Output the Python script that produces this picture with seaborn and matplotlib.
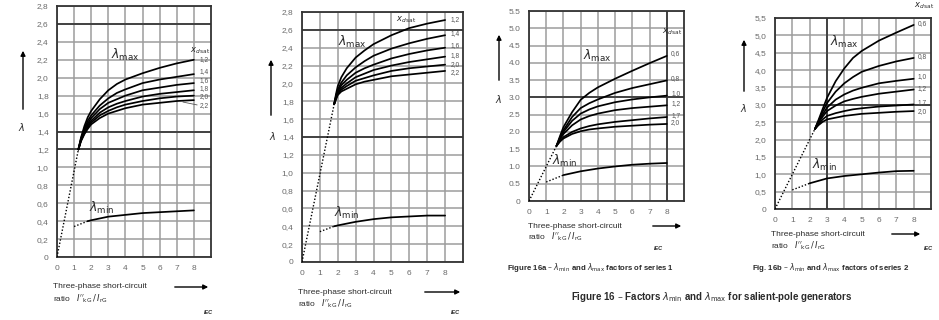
import pandas as pd
import matplotlib.pyplot as plt
import seaborn as sns

sns.set_theme(style="white")
plt.rcParams["font.family"] = ["Liberation Sans", "DejaVu Sans"]

W, H = 939, 320

# ---- data ----
# panel 1 (left)
P1_X = [1.25, 1.4, 1.6, 1.8, 2, 2.5, 3, 3.5, 4, 5, 6, 7, 8]
P1_XDSAT = ["1,2", "1,4", "1,6", "1,8", "2,0", "2,2"]
P1_LMAX = [
    [1.2, 1.33, 1.46, 1.56, 1.63, 1.76, 1.86, 1.93, 1.98, 2.05, 2.11, 2.16, 2.20],
    [1.2, 1.32, 1.43, 1.52, 1.58, 1.69, 1.77, 1.83, 1.87, 1.94, 1.98, 2.01, 2.04],
    [1.2, 1.31, 1.41, 1.49, 1.55, 1.65, 1.72, 1.76, 1.80, 1.86, 1.89, 1.92, 1.94],
    [1.2, 1.30, 1.40, 1.47, 1.52, 1.61, 1.67, 1.71, 1.74, 1.79, 1.82, 1.84, 1.86],
    [1.2, 1.30, 1.38, 1.45, 1.50, 1.58, 1.63, 1.67, 1.70, 1.74, 1.77, 1.79, 1.80],
    [1.2, 1.29, 1.37, 1.43, 1.48, 1.55, 1.60, 1.63, 1.66, 1.70, 1.72, 1.74, 1.75],
]
P1_START = [1.25, 1.2]
P1_MIN_DOT_X = [1.0, 1.8]
P1_MIN_DOT = [0.34, 0.40]
P1_MIN_X = [1.8, 2, 3, 4, 5, 6, 7, 8]
P1_LMIN = [0.40, 0.41, 0.45, 0.47, 0.49, 0.50, 0.51, 0.52]

# panel 2
P2_X = [1.8, 1.9, 2, 2.2, 2.5, 3, 3.5, 4, 5, 6, 7, 8]
P2_XDSAT = ["1,2", "1,4", "1,6", "1,8", "2,0", "2,2"]
P2_LMAX = [
    [1.77, 1.88, 1.97, 2.07, 2.17, 2.29, 2.37, 2.44, 2.54, 2.62, 2.67, 2.71],
    [1.77, 1.86, 1.93, 2.01, 2.09, 2.18, 2.25, 2.31, 2.39, 2.45, 2.50, 2.54],
    [1.77, 1.85, 1.91, 1.98, 2.04, 2.12, 2.17, 2.21, 2.28, 2.33, 2.37, 2.40],
    [1.77, 1.84, 1.89, 1.95, 2.00, 2.07, 2.11, 2.15, 2.20, 2.24, 2.27, 2.30],
    [1.77, 1.83, 1.88, 1.93, 1.97, 2.03, 2.06, 2.09, 2.14, 2.17, 2.19, 2.21],
    [1.77, 1.82, 1.87, 1.91, 1.94, 1.99, 2.02, 2.04, 2.08, 2.10, 2.12, 2.14],
]
P2_START = [1.8, 1.77]
P2_MIN_DOT_X = [1.0, 1.8]
P2_MIN_DOT = [0.34, 0.40]
P2_MIN_X = [1.8, 2, 3, 4, 5, 6, 7, 8]
P2_LMIN = [0.40, 0.41, 0.45, 0.48, 0.50, 0.51, 0.52, 0.52]

# panel 3 (Figure 16a, series 1)
P3_X = [1.6, 1.8, 2, 2.5, 3, 3.5, 4, 5, 6, 7, 8]
P3_XDSAT = ["0,6", "0,8", "1,0", "1,2", "1,7", "2,0"]
P3_LMAX = [
    [1.6, 1.88, 2.14, 2.57, 2.93, 3.13, 3.29, 3.54, 3.77, 3.99, 4.20],
    [1.6, 1.84, 2.05, 2.43, 2.69, 2.83, 2.94, 3.13, 3.27, 3.38, 3.49],
    [1.6, 1.82, 2.00, 2.32, 2.53, 2.65, 2.74, 2.86, 2.94, 3.00, 3.05],
    [1.6, 1.79, 1.94, 2.19, 2.36, 2.46, 2.53, 2.63, 2.69, 2.73, 2.77],
    [1.6, 1.74, 1.85, 2.00, 2.10, 2.17, 2.22, 2.29, 2.34, 2.39, 2.43],
    [1.6, 1.72, 1.81, 1.94, 2.02, 2.07, 2.10, 2.15, 2.18, 2.21, 2.23],
]
P3_START = [1.6, 1.6]
P3_MIN_DOT_X = [1.0, 2.0]
P3_MIN_DOT = [0.55, 0.75]
P3_MIN_X = [2, 3, 4, 5, 6, 7, 8]
P3_LMIN = [0.75, 0.86, 0.94, 1.00, 1.05, 1.08, 1.10]

# panel 4 (Figure 16b, series 2)
P4_X = [2.3, 2.5, 2.75, 3, 3.5, 4, 4.5, 5, 6, 7, 8]
P4_XDSAT = ["0,6", "0,8", "1,0", "1,2", "1,7", "2,0"]
P4_LMAX = [
    [2.3, 2.55, 2.88, 3.20, 3.68, 4.05, 4.35, 4.55, 4.85, 5.08, 5.30],
    [2.3, 2.52, 2.80, 3.05, 3.38, 3.62, 3.80, 3.95, 4.12, 4.25, 4.35],
    [2.3, 2.50, 2.72, 2.92, 3.15, 3.30, 3.41, 3.49, 3.62, 3.69, 3.75],
    [2.3, 2.48, 2.66, 2.82, 2.98, 3.10, 3.17, 3.23, 3.32, 3.38, 3.44],
    [2.3, 2.44, 2.58, 2.68, 2.76, 2.82, 2.87, 2.90, 2.95, 2.98, 3.01],
    [2.3, 2.41, 2.51, 2.58, 2.63, 2.68, 2.71, 2.74, 2.77, 2.80, 2.82],
]
P4_START = [2.3, 2.3]
P4_MIN_DOT_X = [1.0, 2.0]
P4_MIN_DOT = [0.55, 0.74]
P4_MIN_X = [2, 3, 4, 5, 6, 7, 8]
P4_LMIN = [0.74, 0.88, 0.95, 1.00, 1.05, 1.09, 1.10]

Y_TICKS_A = [round(0.2 * i, 1) for i in range(15)]
Y_LABELS_A = ["0"] + [f"{v:.1f}".replace(".", ",") for v in Y_TICKS_A[1:]]
Y_TICKS_B = [0.5 * i for i in range(12)]
Y_LABELS_B3 = ["0"] + [f"{v:.1f}" for v in Y_TICKS_B[1:]]
Y_LABELS_B4 = ["0"] + [f"{v:.1f}".replace(".", ",") for v in Y_TICKS_B[1:]]
X_TICKS = list(range(9))

# ---- layout (pixels) ----
PANELS = [
    dict(rect=(57, 6, 211, 257), ymax=2.8, yt=Y_TICKS_A, yl=Y_LABELS_A,
         xs=P1_X, xd=P1_XDSAT, lmax=P1_LMAX, start=P1_START,
         mdx=P1_MIN_DOT_X, md=P1_MIN_DOT, mx=P1_MIN_X, mn=P1_LMIN,
         lab_y=[2.20, 2.07, 1.97, 1.88, 1.79, 1.69], lab_x=8.35,
         head=(8.35, 2.30), lmax_pos=(4.0, 2.25), lmin_pos=(2.6, 0.55),
         dark_h=[1.2, 1.4, 2.6], dark_v=[],
         yarrow=(23, 112, 48), lam=(22, 127),
         xtext=(53, 287, 299), xarrow=(172, 211, 287), iec=(208, 312)),
    dict(rect=(302, 12, 463, 262), ymax=2.8, yt=Y_TICKS_A, yl=Y_LABELS_A,
         xs=P2_X, xd=P2_XDSAT, lmax=P2_LMAX, start=P2_START,
         mdx=P2_MIN_DOT_X, md=P2_MIN_DOT, mx=P2_MIN_X, mn=P2_LMIN,
         lab_y=[2.72, 2.56, 2.42, 2.31, 2.21, 2.12], lab_x=8.3,
         head=(5.85, 2.71), lmax_pos=(2.8, 2.47), lmin_pos=(2.5, 0.55),
         dark_h=[1.4, 2.6], dark_v=[],
         yarrow=(271, 118, 57), lam=(273, 136),
         xtext=(298, 292, 304), xarrow=(422, 463, 292), iec=(455, 312)),
    dict(rect=(529, 11, 684, 201), ymax=5.5, yt=Y_TICKS_B, yl=Y_LABELS_B3,
         xs=P3_X, xd=P3_XDSAT, lmax=P3_LMAX, start=P3_START,
         mdx=P3_MIN_DOT_X, md=P3_MIN_DOT, mx=P3_MIN_X, mn=P3_LMIN,
         lab_y=[4.28, 3.55, 3.10, 2.82, 2.48, 2.26], lab_x=8.25,
         head=(8.35, 4.9), lmax_pos=(3.95, 4.2), lmin_pos=(2.1, 1.15),
         dark_h=[3.0], dark_v=[8],
         yarrow=(499, 83, 32), lam=(499, 99),
         xtext=(528, 226, 237), xarrow=(650, 684, 226), iec=(658, 248)),
    dict(rect=(775, 18, 931, 209), ymax=5.5, yt=Y_TICKS_B, yl=Y_LABELS_B4,
         xs=P4_X, xd=P4_XDSAT, lmax=P4_LMAX, start=P4_START,
         mdx=P4_MIN_DOT_X, md=P4_MIN_DOT, mx=P4_MIN_X, mn=P4_LMIN,
         lab_y=[5.35, 4.40, 3.82, 3.47, 3.07, 2.82], lab_x=8.25,
         head=(8.6, 5.85), lmax_pos=(4.0, 4.8), lmin_pos=(2.85, 1.27),
         dark_h=[3.0], dark_v=[3],
         yarrow=(744, 94, 37), lam=(744, 108),
         xtext=(771, 234, 246), xarrow=(889, 923, 234), iec=(928, 249)),
]

TXT = "#2a2a2a"
GRID = "#9c9c9c"
DOT = (0, (1.0, 1.4))

fig = plt.figure(figsize=(W / 100, H / 100), dpi=100)
fig.patch.set_facecolor("white")


def fx(x):
    return x / W


def fy(y):
    return 1 - y / H


for p in PANELS:
    l, t, r, b = p["rect"]
    ax = fig.add_axes([fx(l), fy(b), (r - l) / W, (b - t) / H])
    ax.set_facecolor("white")

    rows = [(x, y, k) for k, ys in zip(p["xd"], p["lmax"]) for x, y in zip(p["xs"], ys)]
    df = pd.DataFrame(rows, columns=["ratio", "lam", "xdsat"])
    sns.lineplot(data=df, x="ratio", y="lam", units="xdsat", estimator=None,
                 color="black", lw=1.25, ax=ax, sort=False, zorder=4)
    sns.lineplot(x=[0, p["start"][0]], y=[0, p["start"][1]], color="black",
                 lw=1.0, linestyle=DOT, ax=ax, zorder=4)
    sns.lineplot(x=p["mdx"], y=p["md"], color="black", lw=1.0,
                 linestyle=DOT, ax=ax, zorder=4)
    sns.lineplot(x=p["mx"], y=p["mn"], color="black", lw=1.25, ax=ax, zorder=4)

    ax.set_xlim(0, 9)
    ax.set_ylim(0, p["ymax"])
    ax.set_xticks(X_TICKS)
    ax.set_xticklabels([str(v) for v in X_TICKS])
    ax.set_yticks(p["yt"])
    ax.set_yticklabels(p["yl"])
    ax.set_xlabel("")
    ax.set_ylabel("")
    ax.grid(True, color=GRID, lw=1.1, zorder=0)
    ax.set_axisbelow(True)
    for v in p["dark_h"]:
        ax.axhline(v, color="#3a3a3a", lw=1.3, zorder=1)
    for v in p["dark_v"]:
        ax.axvline(v, color="#3a3a3a", lw=1.3, zorder=1)
    ax.tick_params(length=0, pad=6, labelsize=6, labelcolor="#6a6a6a")
    for s in ax.spines.values():
        s.set_color("#333333")
        s.set_linewidth(1.3)

    for lab, yv in zip(p["xd"], p["lab_y"]):
        ax.text(p["lab_x"], yv, lab, fontsize=4.8, color="#555555",
                va="center", ha="left", zorder=5)
    ax.text(*p["head"], r"$x_{d\,\mathrm{sat}}$", fontsize=6, color=TXT,
            ha="center", va="center", clip_on=False)
    ax.text(*p["lmax_pos"], r"$\lambda_{\mathrm{max}}$", fontsize=9,
            color=TXT, ha="center", va="center")
    ax.text(*p["lmin_pos"], r"$\lambda_{\mathrm{min}}$", fontsize=9,
            color=TXT, ha="center", va="center")

    # y arrow and lambda symbol
    xa, y0, y1 = p["yarrow"]
    fig.add_artist(plt.Annotation("", xy=(fx(xa), fy(y1)), xytext=(fx(xa), fy(y0)),
                                  xycoords="figure fraction",
                                  arrowprops=dict(arrowstyle="-|>", color="black",
                                                  lw=1.0, mutation_scale=7)))
    fig.text(fx(p["lam"][0]), fy(p["lam"][1]), r"$\lambda$", fontsize=7,
             color=TXT, ha="center", va="center")

    # x label block
    xt, ya, yb = p["xtext"]
    fig.text(fx(xt), fy(ya), "Three-phase short-circuit", fontsize=6,
             color=TXT, ha="left", va="center")
    fig.text(fx(xt), fy(yb), r"ratio   $I''_{\mathrm{kG}}\,/\,I_{\mathrm{rG}}$",
             fontsize=6, color=TXT, ha="left", va="center")
    x0, x1, yy = p["xarrow"]
    fig.add_artist(plt.Annotation("", xy=(fx(x1), fy(yy)), xytext=(fx(x0), fy(yy)),
                                  xycoords="figure fraction",
                                  arrowprops=dict(arrowstyle="-|>", color="black",
                                                  lw=1.0, mutation_scale=7)))
    fig.text(fx(p["iec"][0]), fy(p["iec"][1]), "IEC", fontsize=4,
             color=TXT, ha="center", va="center", fontweight="bold", style="italic")

# leader line for the lowest label of panel 1
fig.axes[0].annotate("", xy=(7.2, 1.735), xytext=(8.35, 1.69),
                     arrowprops=dict(arrowstyle="-", color="#555555", lw=0.6))

fig.text(fx(591), fy(268),
         r"Figure 16a – $\lambda_{\mathrm{min}}$ and $\lambda_{\mathrm{max}}$ factors of series 1",
         fontsize=5.6, fontweight="bold", color=TXT, ha="center", va="center")
fig.text(fx(831), fy(268),
         r"Fig. 16b – $\lambda_{\mathrm{min}}$ and $\lambda_{\mathrm{max}}$ factors of series 2",
         fontsize=5.6, fontweight="bold", color=TXT, ha="center", va="center")
fig.text(fx(712), fy(297),
         r"Figure 16 – Factors $\lambda_{\mathrm{min}}$ and $\lambda_{\mathrm{max}}$ for salient-pole generators",
         fontsize=7, fontweight="bold", color=TXT, ha="center", va="center")

fig.savefig("out.png", dpi=100, facecolor="white")
